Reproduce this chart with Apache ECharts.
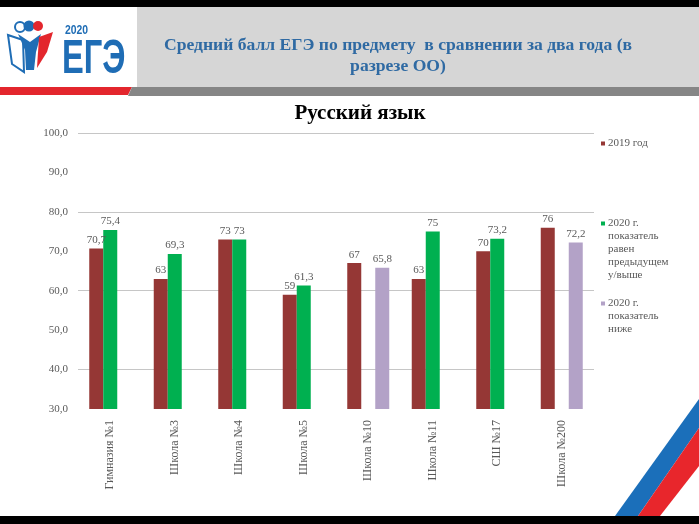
<!DOCTYPE html>
<html>
<head>
<meta charset="utf-8">
<script src="https://cdn.jsdelivr.net/npm/echarts@6/dist/echarts.min.js"></script>
<style>html,body{margin:0;padding:0;background:#fff;}#c{width:699px;height:524px;}</style>
</head>
<body>
<div id="c"></div>
<script>
var categories = ['Гимназия №1', 'Школа №3', 'Школа №4', 'Школа №5', 'Школа №10', 'Школа №11', 'СШ №17', 'Школа №200'];
var values2019 = [70.7, 63, 73, 59, 67, 63, 70, 76];
var values2020up = [75.4, 69.3, 73, 61.3, null, 75, 73.2, null];
var values2020down = [null, null, null, null, 65.8, null, null, 72.2];
var seriesNames = ['2019 год', '2020 г. показатель равен предыдущем у/выше', '2020 г. показатель ниже'];
var legendLines = [
  ['2019 год'],
  ['2020 г.', 'показатель', 'равен', 'предыдущем', 'у/выше'],
  ['2020 г.', 'показатель', 'ниже']
];
var yMin = 30, yMax = 100, yStep = 10;

var SERIF = '"Liberation Serif", "Times New Roman", serif';
var colors = ['#953735', '#00b050', '#b3a2c7'];
var grey = '#595959';

function fmt(v) { return String(v).replace('.', ','); }

function legendFormatter(idx) {
  return function () {
    var lines = legendLines[idx];
    return lines.map(function (l, i) {
      return (i === 0 ? '{sq' + idx + '|}{gap|}' : '{ind|}') + '{t|' + l + '}';
    }).join('\n');
  };
}
var rich = {
  t: { fontFamily: SERIF, fontSize: 11, color: grey, lineHeight: 13 },
  gap: { width: 3, lineHeight: 13 },
  ind: { width: 7, lineHeight: 13 },
  sq0: { width: 4, height: 4, backgroundColor: colors[0] },
  sq1: { width: 4, height: 4, backgroundColor: colors[1] },
  sq2: { width: 4, height: 4, backgroundColor: colors[2] }
};
var legendTops = [138, 218, 298];
var legends = seriesNames.map(function (n, i) {
  return {
    data: [n], orient: 'vertical', left: 596, top: legendTops[i], padding: 0,
    itemWidth: 0, itemHeight: 0, icon: 'rect', selectedMode: false,
    formatter: legendFormatter(i),
    textStyle: { rich: rich, fontFamily: SERIF, fontSize: 11, color: grey }
  };
});

function makeSeries(name, data, color) {
  return {
    name: name, type: 'bar', data: data, barWidth: 14, barGap: '0%',
    itemStyle: { color: color },
    label: {
      show: true, position: 'top', distance: 3,
      fontFamily: SERIF, fontSize: 11, color: grey,
      formatter: function (p) { return p.value == null ? '' : fmt(p.value); }
    }
  };
}

var chart = echarts.init(document.getElementById('c'));
chart.setOption({
  animation: false,
  backgroundColor: '#ffffff',
  title: {
    text: 'Русский язык', left: 355, top: 98, textAlign: 'center',
    textStyle: { fontFamily: SERIF, fontSize: 21, fontWeight: 'bold', color: '#000' }
  },
  legend: legends,
  grid: { left: 78, right: 105, top: 133, bottom: 115 },
  xAxis: {
    type: 'category', data: categories,
    axisLine: { show: false }, axisTick: { show: false },
    axisLabel: { rotate: 90, margin: 11, fontFamily: SERIF, fontSize: 12, color: grey, interval: 0 }
  },
  yAxis: {
    type: 'value', min: yMin, max: yMax, interval: yStep,
    axisLine: { show: false }, axisTick: { show: false },
    axisLabel: { margin: 10, fontFamily: SERIF, fontSize: 11, color: grey,
      formatter: function (v) { return v.toFixed(1).replace('.', ','); } },
    splitLine: { show: true, lineStyle: { color: ['rgba(0,0,0,0)', '#c6c6c6'], width: 1 } }
  },
  series: [
    makeSeries(seriesNames[0], values2019, colors[0]),
    makeSeries(seriesNames[1], values2020up, colors[1]),
    makeSeries(seriesNames[2], values2020down, colors[2])
  ],
  graphic: [
    { type: 'rect', shape: { x: 0, y: 0, width: 699, height: 7 }, style: { fill: '#000' } },
    { type: 'rect', shape: { x: 0, y: 516, width: 699, height: 8 }, style: { fill: '#000' } },
    { type: 'rect', shape: { x: 137, y: 7, width: 562, height: 80 }, style: { fill: '#d6d6d6' } },
    { type: 'polygon', shape: { points: [[0, 87], [132, 87], [128, 95], [0, 95]] }, style: { fill: '#e3262d' } },
    { type: 'polygon', shape: { points: [[132, 87], [699, 87], [699, 96], [128, 96]] }, style: { fill: '#868686' } },
    // logo
    { type: 'polygon', shape: { points: [[8, 35], [23, 40], [24, 72], [12, 64]] }, style: { fill: '#fff', stroke: '#1f6db5', lineWidth: 2 } },
    { type: 'polygon', shape: { points: [[18, 34], [30, 42], [41, 34], [36, 52], [34, 70], [26, 70], [25, 50]] }, style: { fill: '#1f6db5' } },
    { type: 'polygon', shape: { points: [[39, 37], [53, 32], [47, 52], [37, 68]] }, style: { fill: '#e3262d' } },
    { type: 'circle', shape: { cx: 20, cy: 27, r: 5 }, style: { fill: '#fff', stroke: '#1f6db5', lineWidth: 2 } },
    { type: 'circle', shape: { cx: 29, cy: 26, r: 5.5 }, style: { fill: '#1f6db5' } },
    { type: 'circle', shape: { cx: 38, cy: 26, r: 5 }, style: { fill: '#e3262d' } },
    { type: 'text', x: 65, y: 30, scaleX: 0.8, style: { text: '2020', font: 'bold 13px "Liberation Sans", Arial, sans-serif', fill: '#1f6db5', verticalAlign: 'middle' } },
    { type: 'text', x: 62, y: 84, scaleX: 0.68, style: { text: 'ЕГЭ', font: 'bold 48px "Liberation Sans", Arial, sans-serif', fill: '#1f6db5', verticalAlign: 'bottom' } },
    // header title
    { type: 'text', x: 398, y: 56, style: { text: 'Средний балл ЕГЭ по предмету  в сравнении за два года (в\nразрезе ОО)', font: 'bold 17.6px "Liberation Serif", serif', fill: '#2f6aa3', align: 'center', verticalAlign: 'middle', lineHeight: 21 } },
    // flag stripes
    { type: 'polygon', shape: { points: [[615, 516], [638, 516], [699, 428], [699, 399]] }, style: { fill: '#1b6fba' } },
    { type: 'polygon', shape: { points: [[638, 516], [660, 516], [699, 466], [699, 428]] }, style: { fill: '#e8262c' } }
  ]
});
</script>
</body>
</html>
